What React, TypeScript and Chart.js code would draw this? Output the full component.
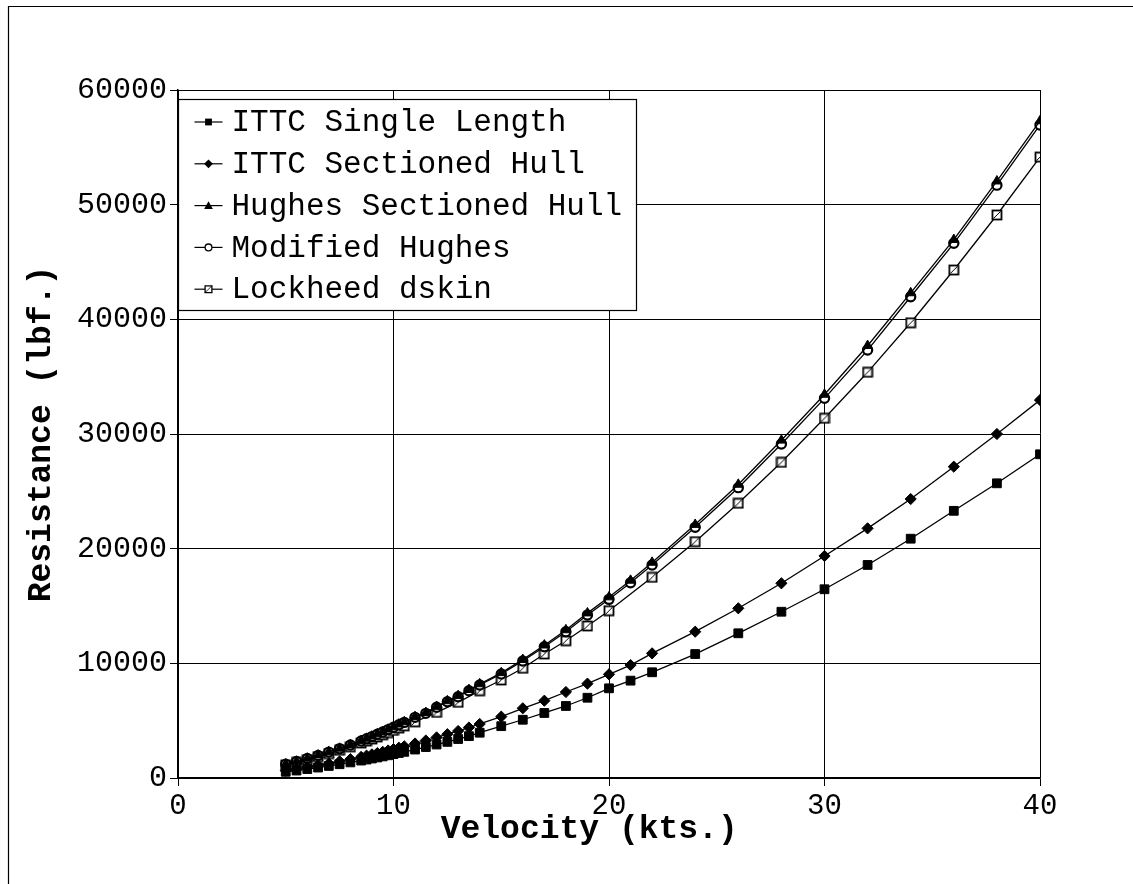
import React, { useEffect, useRef } from "react";
import { Chart, registerables } from "chart.js";

Chart.register(...registerables);

// ---- data ----
const speeds = [5, 5.5, 6, 6.5, 7, 7.5, 8, 8.5, 8.75, 9, 9.25, 9.5, 9.75, 10, 10.25, 10.5, 11, 11.5, 12, 12.5, 13, 13.5, 14, 15, 16, 17, 18, 19, 20, 21, 22, 24, 26, 28, 30, 32, 34, 36, 38, 40];

const ittcSingle = [540, 650, 780, 910, 1050, 1200, 1360, 1520, 1610, 1700, 1790, 1880, 1980, 2080, 2180, 2280, 2480, 2700, 2920, 3150, 3400, 3650, 3950, 4520, 5080, 5670, 6280, 7000, 7820, 8490, 9220, 10810, 12620, 14500, 16460, 18580, 20870, 23300, 25700, 28230];

const ittcSectioned = [640, 780, 930, 1090, 1260, 1450, 1640, 1840, 1950, 2060, 2170, 2280, 2400, 2520, 2640, 2760, 3010, 3270, 3540, 3820, 4100, 4400, 4710, 5350, 6080, 6740, 7500, 8230, 9040, 9850, 10870, 12760, 14800, 16980, 19360, 21770, 24330, 27150, 30000, 32960];

const hughesSectioned = [1210, 1450, 1710, 1990, 2280, 2580, 2900, 3260, 3450, 3640, 3840, 4040, 4250, 4460, 4690, 4890, 5340, 5700, 6230, 6720, 7170, 7700, 8200, 9170, 10320, 11580, 12910, 14380, 15780, 17230, 18800, 22100, 25600, 29450, 33450, 37700, 42300, 46950, 52050, 57300];

const modifiedHughes = [1200, 1440, 1700, 1970, 2260, 2560, 2880, 3230, 3420, 3610, 3810, 4010, 4220, 4420, 4650, 4850, 5290, 5640, 6170, 6650, 7090, 7610, 8110, 9070, 10200, 11450, 12760, 14210, 15580, 17030, 18580, 21860, 25320, 29130, 33110, 37320, 41970, 46630, 51700, 56950];

const lockheedSpeeds = [5, 5.5, 6, 6.5, 7, 7.5, 8, 8.5, 8.75, 9, 9.25, 9.5, 9.75, 10, 10.25, 10.5, 11, 12, 13, 14, 15, 16, 17, 18, 19, 20, 22, 24, 26, 28, 30, 32, 34, 36, 38, 40];

const lockheedDskin = [1140, 1360, 1600, 1860, 2130, 2420, 2720, 3050, 3220, 3400, 3580, 3770, 3960, 4150, 4350, 4550, 4900, 5720, 6600, 7610, 8550, 9570, 10810, 11970, 13260, 14590, 17500, 20610, 23960, 27530, 31370, 35380, 39700, 44300, 49100, 54150];

const seriesLabels = ["ITTC Single Length", "ITTC Sectioned Hull", "Hughes Sectioned Hull", "Modified Hughes", "Lockheed dskin"];

const xTicks = [0, 10, 20, 30, 40];
const yTicks = [0, 10000, 20000, 30000, 40000, 50000, 60000];

const FONT = "'Liberation Mono', 'Courier New', monospace";

function makeSlashSquare(size: number): HTMLCanvasElement {
  const c = document.createElement("canvas");
  c.width = size + 2;
  c.height = size + 2;
  const g = c.getContext("2d")!;
  g.fillStyle = "#fff";
  g.fillRect(1, 1, size, size);
  g.strokeStyle = "#000";
  g.lineWidth = 1.8;
  g.strokeRect(1.5, 1.5, size - 1, size - 1);
  g.lineWidth = 1;
  g.beginPath();
  g.moveTo(2.5, size - 0.5);
  g.lineTo(size - 0.5, 2.5);
  g.stroke();
  return c;
}

function drawMarker(ctx: CanvasRenderingContext2D, kind: number, x: number, y: number, s: number) {
  ctx.save();
  ctx.fillStyle = "#000";
  ctx.strokeStyle = "#000";
  ctx.lineWidth = 1.3;
  ctx.beginPath();
  if (kind === 0) {
    ctx.fillRect(x - s, y - s, 2 * s, 2 * s);
  } else if (kind === 1) {
    ctx.moveTo(x, y - s - 1);
    ctx.lineTo(x + s + 1, y);
    ctx.lineTo(x, y + s + 1);
    ctx.lineTo(x - s - 1, y);
    ctx.closePath();
    ctx.fill();
  } else if (kind === 2) {
    ctx.moveTo(x, y - s - 1);
    ctx.lineTo(x + s + 1, y + s);
    ctx.lineTo(x - s - 1, y + s);
    ctx.closePath();
    ctx.fill();
  } else if (kind === 3) {
    ctx.fillStyle = "#fff";
    ctx.arc(x, y, s, 0, Math.PI * 2);
    ctx.fill();
    ctx.stroke();
  } else {
    ctx.fillStyle = "#fff";
    ctx.rect(x - s, y - s, 2 * s, 2 * s);
    ctx.fill();
    ctx.stroke();
    ctx.beginPath();
    ctx.lineWidth = 0.8;
    ctx.moveTo(x - s, y + s);
    ctx.lineTo(x + s, y - s);
    ctx.stroke();
  }
  ctx.restore();
}

const framePlugin = {
  id: "frame",
  beforeDraw(chart: any) {
    const ctx = chart.ctx as CanvasRenderingContext2D;
    ctx.save();
    ctx.fillStyle = "#fff";
    ctx.fillRect(0, 0, chart.width, chart.height);
    ctx.strokeStyle = "#000";
    ctx.lineWidth = 1.2;
    ctx.beginPath();
    ctx.moveTo(8.5, chart.height);
    ctx.lineTo(8.5, 6.5);
    ctx.lineTo(chart.width, 6.5);
    ctx.stroke();
    ctx.restore();
  },
};

const legendPlugin = {
  id: "boxLegend",
  afterDatasetsDraw(chart: any) {
    const ctx = chart.ctx as CanvasRenderingContext2D;
    const area = chart.chartArea;
    const x0 = Math.round(area.left) + 0.5;
    const y0 = Math.round(area.top) + 9.5;
    const w = 458;
    const h = 211;
    ctx.save();
    ctx.fillStyle = "#fff";
    ctx.fillRect(x0, y0, w, h);
    ctx.strokeStyle = "#000";
    ctx.lineWidth = 1.2;
    ctx.strokeRect(x0, y0, w, h);
    ctx.font = `31px ${FONT}`;
    ctx.textBaseline = "middle";
    ctx.textAlign = "left";
    chart.data.datasets.forEach((ds: any, i: number) => {
      const cy = y0 + 22.5 + i * 41.8;
      ctx.strokeStyle = "#000";
      ctx.lineWidth = 1.2;
      ctx.beginPath();
      ctx.moveTo(x0 + 16, cy);
      ctx.lineTo(x0 + 44, cy);
      ctx.stroke();
      drawMarker(ctx, i, x0 + 30, cy, 3.4);
      ctx.fillStyle = "#000";
      ctx.fillText(ds.label, x0 + 53, cy + 1);
    });
    ctx.restore();
  },
};

export default function App() {
  const ref = useRef<HTMLCanvasElement | null>(null);

  useEffect(() => {
    if (!ref.current) return;
    const toPts = (xs: number[], ys: number[]) => xs.map((x, i) => ({ x, y: ys[i] }));
    const slashSquare = makeSlashSquare(10);
    const common = {
      borderColor: "#000",
      borderWidth: 1.3,
      tension: 0,
      fill: false,
      pointBorderColor: "#000",
    };
    const chart = new Chart(ref.current, {
      type: "line",
      data: {
        datasets: [
          { ...common, label: seriesLabels[0], data: toPts(speeds, ittcSingle), pointStyle: "rect", pointRadius: 6.2, pointBackgroundColor: "#000", pointBorderWidth: 1 },
          { ...common, label: seriesLabels[1], data: toPts(speeds, ittcSectioned), pointStyle: "rectRot", pointRadius: 5.6, pointBackgroundColor: "#000", pointBorderWidth: 1 },
          { ...common, label: seriesLabels[2], data: toPts(speeds, hughesSectioned), pointStyle: "triangle", pointRadius: 5.6, pointBackgroundColor: "#000", pointBorderWidth: 1 },
          { ...common, label: seriesLabels[3], data: toPts(speeds, modifiedHughes), pointStyle: "circle", pointRadius: 4.6, pointBackgroundColor: "#fff", pointBorderWidth: 2.2 },
          { ...common, label: seriesLabels[4], data: toPts(lockheedSpeeds, lockheedDskin), pointStyle: slashSquare as any, pointRadius: 5, pointBackgroundColor: "#fff", pointBorderWidth: 1.5 },
        ],
      },
      options: {
        responsive: false,
        animation: false,
        events: [],
        layout: { padding: { left: 0, right: 93, top: 90, bottom: 35 } },
        plugins: {
          legend: { display: false },
          tooltip: { enabled: false },
          title: { display: false },
        },
        scales: {
          x: {
            type: "linear",
            min: 0,
            max: 40,
            afterBuildTicks: (scale: any) => {
              scale.ticks = xTicks.map((v) => ({ value: v }));
            },
            afterFit: (scale: any) => {
              scale.height = 71;
            },
            grid: { color: "#000", lineWidth: 1, tickLength: 8, drawTicks: true, tickColor: "#000" },
            border: { color: "#000", width: 1.5 },
            ticks: {
              color: "#000",
              padding: 3,
              maxRotation: 0,
              autoSkip: false,
              font: { family: FONT, size: 29 },
              callback: (v: any) => String(v),
            },
            title: {
              display: true,
              text: "Velocity (kts.)  ",
              color: "#000",
              font: { family: FONT, size: 33, weight: "bold", lineHeight: 1.2 },
              padding: { top: 0, bottom: 0 },
            },
          },
          y: {
            type: "linear",
            min: 0,
            max: 60000,
            afterBuildTicks: (scale: any) => {
              scale.ticks = yTicks.map((v) => ({ value: v }));
            },
            afterFit: (scale: any) => {
              scale.width = 178;
            },
            grid: { color: "#000", lineWidth: 1, tickLength: 8, drawTicks: true, tickColor: "#000" },
            border: { color: "#000", width: 1.5 },
            ticks: {
              color: "#000",
              padding: 3,
              autoSkip: false,
              font: { family: FONT, size: 30 },
              callback: (v: any) => String(v),
            },
            title: {
              display: true,
              text: "Resistance (lbf.)",
              color: "#000",
              font: { family: FONT, size: 33, weight: "bold" },
              padding: { top: 22, bottom: 0 },
            },
          },
        },
      },
      plugins: [framePlugin, legendPlugin],
    });
    return () => chart.destroy();
  }, []);

  return (
    <div style={{ position: "absolute", left: 0, top: 0, width: 1133, height: 884, overflow: "hidden", background: "#fff" }}>
      <canvas ref={ref} width={1133} height={884} style={{ display: "block", width: 1133, height: 884 }} />
    </div>
  );
}
